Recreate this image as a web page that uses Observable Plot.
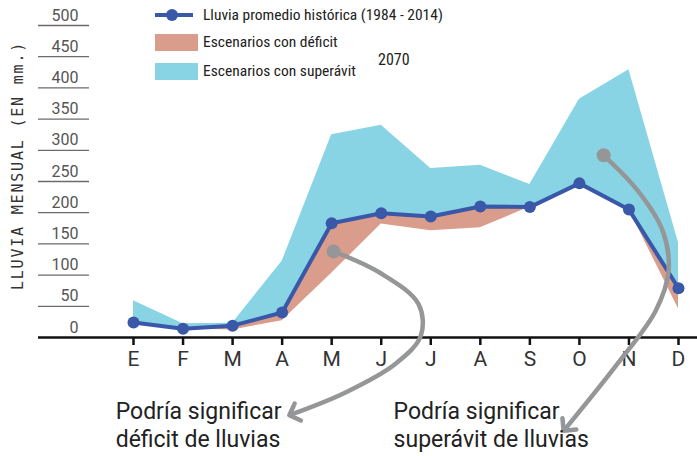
<!DOCTYPE html>
<html>
<head>
<meta charset="utf-8">
<script src="https://cdn.jsdelivr.net/npm/d3@7"></script>
<script src="https://cdn.jsdelivr.net/npm/@observablehq/plot@0.6"></script>
<style>
  html, body { margin: 0; padding: 0; background: #fff; }
  #wrap { position: relative; width: 697px; height: 456px; overflow: hidden; }
  #legend { position: absolute; left: 0; top: 0; width: 697px; height: 100px; pointer-events: none; }
  .cond { font-family: "Liberation Sans Narrow", "Roboto Condensed", "DejaVu Sans Condensed", sans-serif; }
</style>
</head>
<body>
<div id="wrap">
  <div id="chart"></div>
  <svg id="legend" width="697" height="100"></svg>
</div>
<script>
// ---- data ----
const months = ["Ene","Feb","Mar","Abr","May","Jun","Jul","Ago","Sep","Oct","Nov","Dic"];
const monthLabels = ["E","F","M","A","M","J","J","A","S","O","N","D"];
const historical = [24, 14, 19, 40, 183, 199, 194, 210, 209, 247, 205, 79];
const deficitLow = [24, 14, 12, 27, 103, 182, 171, 176, 209, 247, 205, 46];
const superavitHigh = [59, 22, 23, 122, 325, 340, 271, 276, 245, 382, 429, 152];
const yTicks = [0, 50, 100, 150, 200, 250, 300, 350, 400, 450, 500];

const legendLabels = ["Lluvia promedio histórica (1984 - 2014)", "Escenarios con déficit", "Escenarios con superávit"];
const legendYear = "2070";
const yTitle = "LLUVIA MENSUAL (EN mm.)";
const noteDeficit = "Podría significar\ndéficit de lluvias";
const noteSuperavit = "Podría significar\nsuperávit de lluvias";

// annotation guide paths (month index, mm)
const arrowDeficit = [[4.04,138],[4.99,103],[5.75,54],[5.8,3],[5.29,-42],[4.28,-88],[3.23,-122]];
const arrowSuperavit = [[9.49,292],[10.17,236],[10.68,171],[10.8,107],[10.54,43],[9.77,-42],[8.74,-144]];

const table = months.map((m, i) => ({
  i, month: m, label: monthLabels[i],
  mean: historical[i], lo: deficitLow[i], hi: superavitHigh[i]
}));

const BLUE = "#3a58a8", CYAN = "#88d4e4", RED = "#da9d8c", GRAY = "#959697";
const SANS = 'Roboto, "Noto Sans", sans-serif';

const chart = Plot.plot({
  width: 697,
  height: 456,
  marginTop: 25,
  marginBottom: 119,
  marginLeft: 38,
  marginRight: 0,
  style: { fontFamily: SANS, background: "transparent", overflow: "visible" },
  x: { type: "linear", domain: [0, 11], range: [133, 678], axis: null },
  y: { domain: [0, 500], axis: null },
  marks: [
    // y gridline stubs and labels
    Plot.ruleY(yTicks.filter(d => d > 0), { stroke: "#6b6b6b", strokeWidth: 1.3, insetRight: 608 }),
    Plot.text(yTicks, { y: d => d, text: d => String(d), frameAnchor: "left", dx: 40, dy: -10,
      textAnchor: "end", fontSize: 16, fill: "#555" }),
    // scenario bands
    Plot.areaY(table, { x: "i", y1: "mean", y2: "hi", fill: CYAN }),
    Plot.areaY(table, { x: "i", y1: "lo", y2: "mean", fill: RED }),
    // x axis
    Plot.ruleY([0], { stroke: "#111", strokeWidth: 2.5 }),
    Plot.axisX(table.map(d => d.i), { tickFormat: i => monthLabels[i], tickSize: 8, tickPadding: 6,
      strokeWidth: 2.5, stroke: "#111", fontSize: 21, fill: "#333", anchor: "bottom", label: null }),
    // historical line
    Plot.line(table, { x: "i", y: "mean", stroke: BLUE, strokeWidth: 4 }),
    Plot.dot(table, { x: "i", y: "mean", r: 6, fill: BLUE }),
    // annotations
    Plot.line(arrowDeficit, { x: d => d[0], y: d => d[1], curve: "catmull-rom", stroke: GRAY,
      strokeWidth: 4.5, markerEnd: "arrow" }),
    Plot.dot([arrowDeficit[0]], { x: d => d[0], y: d => d[1], r: 7, fill: GRAY }),
    Plot.line(arrowSuperavit, { x: d => d[0], y: d => d[1], curve: "catmull-rom", stroke: GRAY,
      strokeWidth: 4.5, markerEnd: "arrow" }),
    Plot.dot([arrowSuperavit[0]], { x: d => d[0], y: d => d[1], r: 7, fill: GRAY }),
    Plot.text([noteDeficit], { x: -0.36, y: -99, text: d => d, textAnchor: "start", lineAnchor: "top",
      fontSize: 23, lineHeight: 1.22, fill: "#222" }),
    Plot.text([noteSuperavit], { x: 5.25, y: -99, text: d => d, textAnchor: "start", lineAnchor: "top",
      fontSize: 23, lineHeight: 1.22, fill: "#222" }),
    // y title
    Plot.text([yTitle], { text: d => d, frameAnchor: "left", dx: -20, dy: -16, rotate: -90,
      textAnchor: "middle", fontSize: 15, fill: "#333", fontFamily: "DejaVu Sans Mono, monospace" })
  ]
});
document.getElementById("chart").appendChild(chart);
// letter spacing for y title
chart.querySelectorAll("text").forEach(t => { if (t.textContent === yTitle) t.setAttribute("letter-spacing", "1.8"); });

// ---- legend overlay ----
const lg = d3.select("#legend");
// decorative cut-off stroke at left edge
lg.append("path").attr("d", "M0,215 Q5,208 10,201 M0,240 L10,240")
  .attr("stroke", "#78b4de").attr("stroke-width", 2).attr("fill", "none");
const row1 = 15, row2 = 42, row3 = 71;
lg.append("line").attr("x1", 155).attr("x2", 193).attr("y1", row1).attr("y2", row1)
  .attr("stroke", BLUE).attr("stroke-width", 4);
lg.append("circle").attr("cx", 172).attr("cy", row1).attr("r", 6).attr("fill", BLUE);
lg.append("rect").attr("x", 155).attr("y", 34).attr("width", 43).attr("height", 17).attr("fill", RED);
lg.append("rect").attr("x", 155).attr("y", 63).attr("width", 43).attr("height", 17).attr("fill", CYAN);
[[legendLabels[0], row1], [legendLabels[1], row2], [legendLabels[2], row3]].forEach(([t, y]) => {
  lg.append("text").attr("class", "cond").attr("x", 203).attr("y", y).attr("dy", "0.35em")
    .attr("font-size", 15.5).attr("fill", "#222").text(t);
});
lg.append("text").attr("class", "cond").attr("x", 378).attr("y", 59).attr("dy", "0.35em")
  .attr("font-size", 16).attr("fill", "#222").text(legendYear);
</script>
</body>
</html>
